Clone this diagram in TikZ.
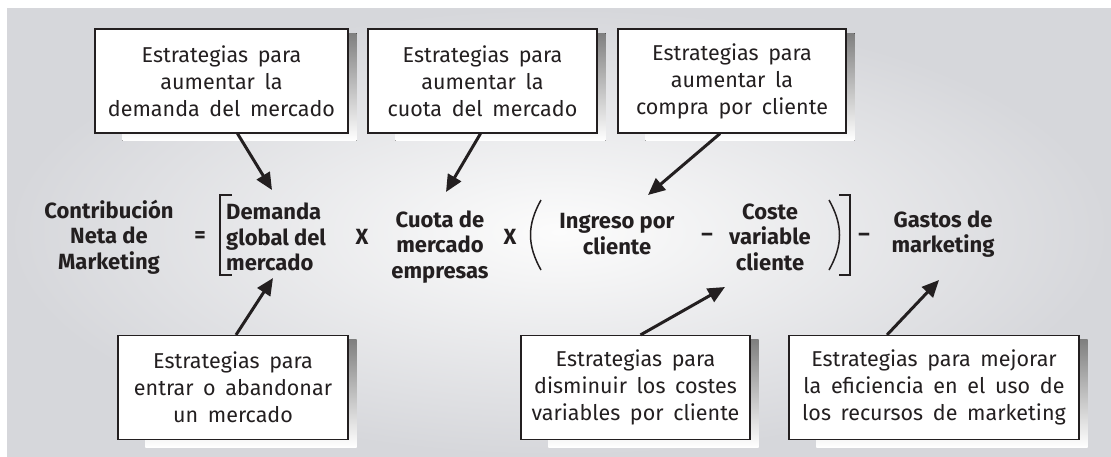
\documentclass[tikz,border=0pt]{standalone}
\usepackage{fontspec}
\setmainfont{Fira Sans}
\newfontfamily\boxfont{Fira Sans}[WordSpace=1.7]
\usetikzlibrary{arrows.meta,positioning}

\definecolor{ink}{RGB}{35,31,32}
\definecolor{bgout}{RGB}{214,215,219}
\definecolor{bgin}{RGB}{252,252,252}
\definecolor{shade}{RGB}{188,189,193}

\pgfdeclarelayer{bg}
\pgfdeclarelayer{shadow}
\pgfsetlayers{bg,shadow,main}

\begin{document}
\begin{tikzpicture}[x=1pt,y=-1pt,
strat/.style={
rectangle,
draw=ink,
line width=1.2pt,
fill=white,
text=ink,
align=center,
inner sep=0pt,
minimum height=104pt,
font=\boxfont\fontsize{21.5}{27}\selectfont
},
term/.style={
text=ink,
inner sep=0pt,
font=\fontsize{22}{25.5}\selectfont\bfseries
},
arr/.style={
-{Triangle[length=17pt,width=15pt]},
line width=3pt,
draw=ink
},
brk/.style={
line width=2pt,
draw=ink
}]

\useasboundingbox (0,0) rectangle (1111,456);
\begin{pgfonlayer}{bg}
\shade[inner color=bgin,outer color=bgout] (7,8) rectangle (1111,456);
\end{pgfonlayer}

% strategy boxes
\node[strat,minimum width=253pt] (sdem) at (221.5,81)
{Estrategias para\\aumentar la\\demanda del mercado};
\node[strat,minimum width=229pt] (scuota) at (482.5,81)
{Estrategias para\\aumentar la\\cuota del mercado};
\node[strat,minimum width=228pt] (scompra) at (732,81)
{Estrategias para\\aumentar la\\compra por cliente};
\node[strat,minimum width=230pt] (sentrar) at (233,387.5)
{Estrategias para\\entrar o abandonar\\un mercado};
\node[strat,minimum width=229pt] (scostes) at (635.5,387.5)
{Estrategias para\\disminuir los costes\\variables por cliente};
\node[strat,minimum width=290pt] (smejorar) at (934,387.5)
{Estrategias para mejorar\\la eficiencia en el uso de\\los recursos de marketing};

% shadows
\begin{pgfonlayer}{shadow}
\foreach \b in {sdem,scuota,scompra,sentrar,scostes,smejorar}
\fill[shade] ([xshift=28pt,yshift=-7pt]\b.south west) rectangle ([xshift=8pt,yshift=-5pt]\b.north east);
\end{pgfonlayer}

% formula
\node[term,align=center] (contrib) at (109,237) {Contribución\\Neta de\\Marketing};
\node[term] (eq) at (200,237) {=};
\node[term,align=left,anchor=west] (demanda) at (226,237) {Demanda\\global del\\mercado};
\node[term] (x1) at (362,237) {X};
\node[term,align=center] (cuota) at (440,247) {Cuota de\\mercado\\empresas};
\node[term] (x2) at (510,237) {X};
\node[term,align=center] (ingreso) at (617,234) {Ingreso por\\cliente};
\node[term] (m1) at (707,237) {–};
\node[term,align=center] (coste) at (770,237) {Coste\\variable\\cliente};
\node[term] (m2) at (864,237) {–};
\node[term,align=center] (gastos) at (943,234) {Gastos de\\marketing};

\draw[brk] (232,195) -- (220,195) -- (220,275) -- (232,275);
\draw[brk] (839,195) -- (850,195) -- (850,275) -- (839,275);
\draw[line width=1.5pt,draw=ink] (541,200) .. controls (527,225) and (527,245) .. (541,270);
\draw[line width=1.5pt,draw=ink] (829,200) .. controls (843,225) and (843,245) .. (829,270);

% arrow tips
\coordinate (tdem) at (272,190);
\coordinate (tcuota) at (446,192);
\coordinate (tingreso) at (648,195);
\coordinate (tentrar) at (273,278);
\coordinate (tcoste) at (725,287);
\coordinate (tgastos) at (939,280);

\draw[arr] ([xshift=16pt]sdem.south) -- (tdem);
\draw[arr] ([xshift=-2pt]scuota.south) -- (tcuota);
\draw[arr] ([xshift=-12pt]scompra.south) -- (tingreso);
\draw[arr] ([xshift=3pt]sentrar.north) -- (tentrar);
\draw[arr] ([xshift=5pt]scostes.north) -- (tcoste);
\draw[arr] ([xshift=-47pt]smejorar.north) -- (tgastos);

\end{tikzpicture}
\end{document}
